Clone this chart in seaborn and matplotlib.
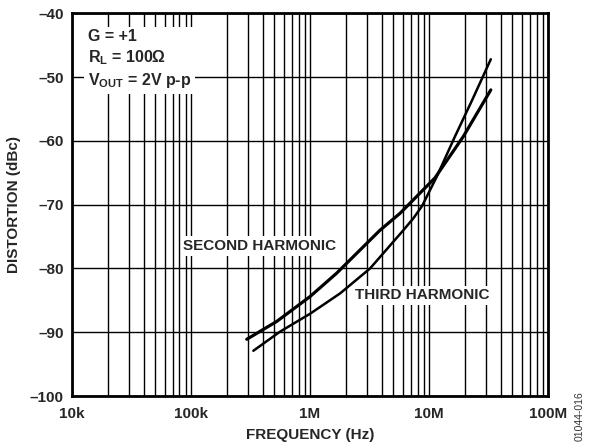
import pandas as pd
import matplotlib
matplotlib.use("Agg")
import matplotlib.pyplot as plt
import seaborn as sns
from matplotlib.ticker import FixedLocator, NullFormatter

# values
freq_2nd = [294e3, 525e3, 1.0e6, 1.67e6, 3.87e6, 5.7e6, 11.2e6, 19.4e6, 33e6]
dist_2nd = [-91.1, -88.3, -84.4, -80.75, -74.0, -71.35, -65.8, -59.3, -52.0]

freq_3rd = [334e3, 560e3, 1.0e6, 1.79e6, 3.19e6, 6.08e6, 7.4e6, 8.73e6, 11.6e6, 16.5e6, 23e6, 33e6]
dist_3rd = [-92.9, -89.9, -87.1, -83.9, -80.0, -74.0, -72.1, -70.2, -65.6, -59.3, -53.6, -47.2]

x_ticks = [1e4, 1e5, 1e6, 1e7, 1e8]
x_labels = ["10k", "100k", "1M", "10M", "100M"]
y_ticks = [-100, -90, -80, -70, -60, -50, -40]
y_labels = ["\u2013100", "\u201390", "\u201380", "\u201370", "\u201360", "\u201350", "\u201340"]

sns.set_style("white")
plt.rcParams["font.family"] = ["Liberation Sans", "DejaVu Sans"]
plt.rcParams["font.weight"] = "bold"
plt.rcParams["mathtext.fontset"] = "custom"
plt.rcParams["mathtext.bf"] = "Liberation Sans:bold"
plt.rcParams["mathtext.rm"] = "Liberation Sans:bold"
plt.rcParams["mathtext.default"] = "bf"

fs = 11

fig = plt.figure(figsize=(5.9, 4.46), dpi=100)
ax = fig.add_axes([0.122, 0.112, 0.807, 0.858])

df2 = pd.DataFrame({"f": freq_2nd, "d": dist_2nd})
df3 = pd.DataFrame({"f": freq_3rd, "d": dist_3rd})

sns.lineplot(data=df2, x="f", y="d", ax=ax, color="black", lw=2.3, zorder=5)
sns.lineplot(data=df3, x="f", y="d", ax=ax, color="black", lw=1.8, zorder=5)

ax.set_xscale("log")
ax.set_xlim(1e4, 1e8)
ax.set_ylim(-100, -40)
ax.set_xticks(x_ticks)
ax.set_xticklabels(x_labels)
minors = [m * 10 ** e for e in range(4, 8) for m in range(2, 10)]
ax.xaxis.set_minor_locator(FixedLocator(minors))
ax.xaxis.set_minor_formatter(NullFormatter())
ax.set_yticks(y_ticks)
ax.set_yticklabels(y_labels)
ax.tick_params(axis="x", which="both", length=0, labelsize=fs, pad=8)
ax.tick_params(axis="y", which="both", length=0, labelsize=fs, pad=6)
for lab in ax.get_xticklabels() + ax.get_yticklabels():
    lab.set_fontweight("bold")

ax.grid(True, which="major", color="black", lw=1.0)
ax.grid(True, which="minor", axis="x", color="black", lw=1.0)
for s in ax.spines.values():
    s.set_color("black")
    s.set_linewidth(2.0)

ax.set_xlabel("FREQUENCY (Hz)", fontsize=fs, fontweight="bold", labelpad=5)
ax.set_ylabel("DISTORTION (dBc)", fontsize=fs, fontweight="bold", labelpad=6)

white = dict(facecolor="white", edgecolor="none", pad=2)
ax.text(0.033, 0.96, "G = +1\nR$_L$ = 100\u03a9\nV$_{OUT}$ = 2V p-p", transform=ax.transAxes,
        ha="left", va="top", fontsize=11.5, fontweight="bold", linespacing=1.3,
        bbox=dict(facecolor="white", edgecolor="none", pad=3), zorder=6)
ax.text(3.8e5, -76.5, "SECOND HARMONIC", ha="center", va="center", fontsize=fs,
        fontweight="bold", bbox=white, zorder=6)
ax.text(8.7e6, -84.2, "THIRD HARMONIC", ha="center", va="center", fontsize=fs,
        fontweight="bold", bbox=white, zorder=6)

fig.text(0.982, 0.012, "01044-016", rotation=90, ha="center", va="bottom",
         fontsize=7.5, fontweight="normal", color="#333333")

fig.savefig("out.png", dpi=100)
